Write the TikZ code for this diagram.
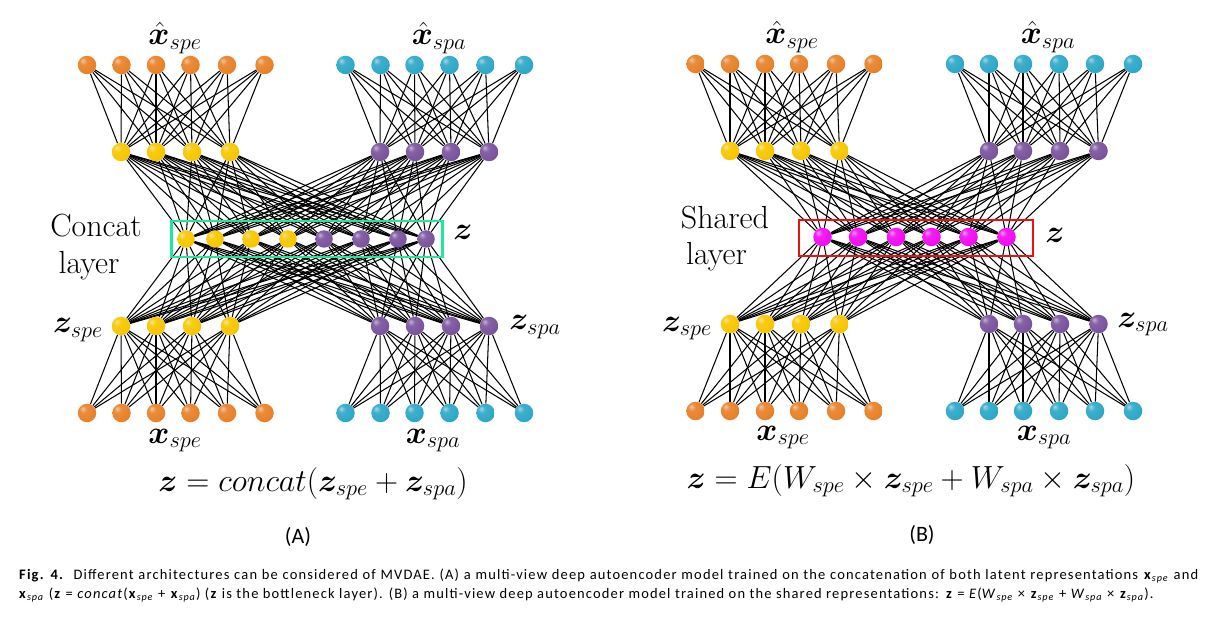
\RequirePackage{fix-cm}
\documentclass[tikz,border=0pt]{standalone}
\usepackage{amsmath,bm}
\usepackage{fontspec}
\newfontfamily\capfont[LetterSpace=8]{Carlito}
\newfontfamily\plabfont{Carlito}
\usetikzlibrary{backgrounds}
\definecolor{cOr}{HTML}{E8822A}
\definecolor{cCy}{HTML}{2FA8C8}
\definecolor{cYe}{HTML}{F8C600}
\definecolor{cPu}{HTML}{7B549E}
\definecolor{cMa}{HTML}{F20CF2}
\definecolor{cGr}{HTML}{1EE89C}
\definecolor{cRe}{HTML}{EE1010}
\makeatletter
\pgfdeclareradialshading[tikz@ball]{myball}{\pgfpoint{-12bp}{12bp}}{color(0bp)=(tikz@ball!45!white); color(10bp)=(tikz@ball!92!white); color(28bp)=(tikz@ball); color(50bp)=(tikz@ball!85!black); color(70bp)=(tikz@ball!75!black)}
\makeatother
\begin{document}
\begin{tikzpicture}[x=1pt,y=-1pt,
  bn/.style={circle,inner sep=0pt,minimum size=18.5pt,ball color=#1,shading=myball},
  link/.style={line width=1.05pt,black},
  lab/.style={font=\fontsize{32}{38}\selectfont,inner sep=0pt,anchor=base},
  captxt/.style={font=\capfont\fontsize{14.5}{17}\selectfont,inner sep=0pt,anchor=base west},
  plab/.style={font=\plabfont\fontsize{22}{26}\selectfont,inner sep=0pt,anchor=base}]
\useasboundingbox (0,0) rectangle (1218,620);
% ---------------- Panel A ----------------
\foreach \x [count=\i] in {87,121.5,156,190.5,227,264.5} {
  \node[bn=cOr] (A-to\i) at (\x,65) {};
  \node[bn=cOr] (A-bo\i) at (\x,413) {};}
\foreach \x [count=\i] in {345.5,380.5,414.5,449.5,485.5,524} {
  \node[bn=cCy] (A-tc\i) at (\x,65) {};
  \node[bn=cCy] (A-bc\i) at (\x,413) {};}
\foreach \x/\c [count=\i] in {121/cYe,156/cYe,192/cYe,230/cYe,380/cPu,415/cPu,451/cPu,489/cPu} {
  \node[bn=\c] (A-u\i) at (\x,152) {};
  \node[bn=\c] (A-l\i) at (\x,326) {};}
\foreach \x/\c [count=\i] in {186/cYe,215/cYe,251/cYe,288/cYe,324/cPu,361/cPu,398/cPu,426/cPu}
  \node[bn=\c,minimum size=17.5pt] (A-c\i) at (\x,239) {};
\begin{scope}[on background layer]
\foreach \i in {1,...,6} \foreach \j in {1,...,4} {
  \draw[link] (A-to\i) -- (A-u\j); \draw[link] (A-bo\i) -- (A-l\j);}
\foreach \i in {1,...,6} \foreach \j in {5,...,8} {
  \draw[link] (A-tc\i) -- (A-u\j); \draw[link] (A-bc\i) -- (A-l\j);}
\foreach \i in {1,...,8} \foreach \j in {1,...,8} {
  \draw[link] (A-u\i) -- (A-c\j); \draw[link] (A-c\j) -- (A-l\i);}
\end{scope}
\node[draw=cGr,line width=2.8pt,minimum width=271pt,minimum height=36pt,inner sep=0pt] (A-box) at (307,239) {};
\node[lab] (A-Lxh1) at (175,45) {$\hat{\bm{x}}_{spe}$};
\node[lab] (A-Lxh2) at (439,45) {$\hat{\bm{x}}_{spa}$};
\node[lab] (A-Lz1) at (78,333) {$\bm{z}_{spe}$};
\node[lab] (A-Lz2) at (535,330) {$\bm{z}_{spa}$};
\node[lab] (A-Lx1) at (175,443) {$\bm{x}_{spe}$};
\node[lab] (A-Lx2) at (433,443) {$\bm{x}_{spa}$};
\node[lab] (A-Lz) at (463,240) {$\bm{z}$};
\node[lab] (A-T1) at (96,237) {Concat};
\node[lab] (A-T2) at (89,274) {layer};
\node[lab] (A-F) at (313,491) {$\bm{z} = concat(\bm{z}_{spe} + \bm{z}_{spa})$};
\node[plab] (A-P) at (298,543) {(A)};
% ---------------- Panel B ----------------
\foreach \x [count=\i] in {695.5,730,765,799,836,873.5} {
  \node[bn=cOr] (B-to\i) at (\x,64) {};
  \node[bn=cOr] (B-bo\i) at (\x,411) {};}
\foreach \x [count=\i] in {955,989,1023,1059,1095,1133} {
  \node[bn=cCy] (B-tc\i) at (\x,64) {};
  \node[bn=cCy] (B-bc\i) at (\x,411) {};}
\foreach \x/\c [count=\i] in {730/cYe,765/cYe,801/cYe,839.5/cYe,989/cPu,1023/cPu,1060/cPu,1098.5/cPu} {
  \node[bn=\c] (B-u\i) at (\x,151) {};
  \node[bn=\c] (B-l\i) at (\x,324) {};}
\foreach \x [count=\i] in {822.5,858,896,931.5,968.5,1006.5}
  \node[bn=cMa] (B-s\i) at (\x,237) {};
\begin{scope}[on background layer]
\foreach \i in {1,...,6} \foreach \j in {1,...,4} {
  \draw[link] (B-to\i) -- (B-u\j); \draw[link] (B-bo\i) -- (B-l\j);}
\foreach \i in {1,...,6} \foreach \j in {5,...,8} {
  \draw[link] (B-tc\i) -- (B-u\j); \draw[link] (B-bc\i) -- (B-l\j);}
\foreach \i in {1,...,8} \foreach \j in {1,...,6} {
  \draw[link] (B-u\i) -- (B-s\j); \draw[link] (B-s\j) -- (B-l\i);}
\end{scope}
\node[draw=cRe,line width=2.8pt,minimum width=234pt,minimum height=36pt,inner sep=0pt] (B-box) at (916,238) {};
\node[lab] (B-Lxh1) at (792,44) {$\hat{\bm{x}}_{spe}$};
\node[lab] (B-Lxh2) at (1048,44) {$\hat{\bm{x}}_{spa}$};
\node[lab] (B-Lz1) at (687,331) {$\bm{z}_{spe}$};
\node[lab] (B-Lz2) at (1143,327) {$\bm{z}_{spa}$};
\node[lab] (B-Lx1) at (783,440) {$\bm{x}_{spe}$};
\node[lab] (B-Lx2) at (1044,440) {$\bm{x}_{spa}$};
\node[lab] (B-Lz) at (1055,243) {$\bm{z}$};
\node[lab] (B-T1) at (725,229) {Shared};
\node[lab] (B-T2) at (716.5,265) {layer};
\node[lab] (B-F) at (911,488) {$\bm{z} = E(W_{spe} \times \bm{z}_{spe} + W_{spa} \times \bm{z}_{spa})$};
\node[plab] (B-P) at (922,541) {(B)};
% ---------------- Caption ----------------
\node[captxt] (C1) at (19,579) {\makebox[1179pt][s]{\textbf{Fig. 4.}\ \ Different architectures can be considered of MVDAE. (A) a multi-view deep autoencoder model trained on the concatenation of both latent representations \textbf{x}\textsubscript{\textit{spe}} and}};
\node[captxt] (C2) at (19,598) {\textbf{x}\textsubscript{\textit{spa}} (\textbf{z} = \textit{concat}(\textbf{x}\textsubscript{\textit{spe}} + \textbf{x}\textsubscript{\textit{spa}}) (\textbf{z} is the bottleneck layer). (B) a multi-view deep autoencoder model trained on the shared representations: \textbf{z} = \textit{E}(\textit{W}\textsubscript{\textit{spe}} × \textbf{z}\textsubscript{\textit{spe}} + \textit{W}\textsubscript{\textit{spa}} × \textbf{z}\textsubscript{\textit{spa}}).};
\end{tikzpicture}
\end{document}
